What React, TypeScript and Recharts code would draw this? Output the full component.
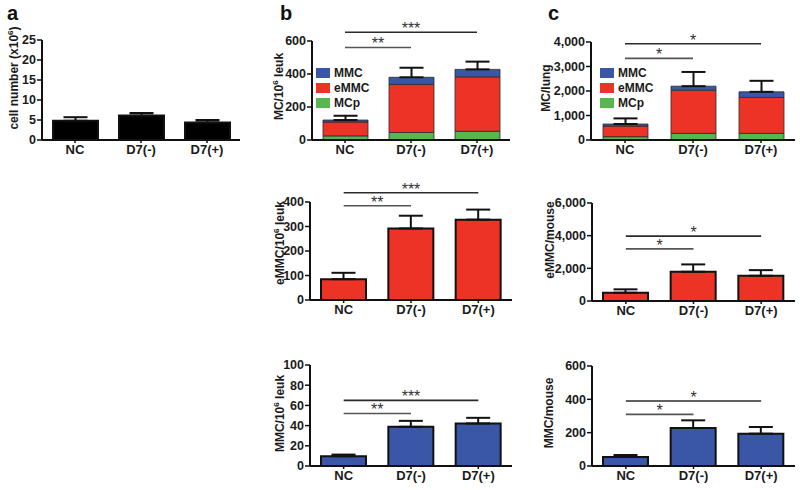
import React from 'react';
import { BarChart, Bar, XAxis, YAxis, ErrorBar, ReferenceLine, Legend } from 'recharts';

const groups = ['NC', 'D7(-)', 'D7(+)'];

// a: total cell number (x10^6)
const cellCount = [4.8, 6.1, 4.4];
const cellCountSem = [0.9, 0.65, 0.6];

// b: per 10^6 leukocytes
const leukMCp = [25, 46, 53];
const leukEMMCStack = [84, 291, 330];
const leukMMCStack = [12, 43, 45];
const leukTotalSem = [26, 58, 47];
const leukEMMC = [85, 292, 328];
const leukEMMCSem = [26, 52, 41];
const leukMMC = [9.7, 38.8, 42.1];
const leukMMCSem = [1.6, 5.9, 5.6];

// c: per lung / per mouse
const lungMCp = [135, 272, 272];
const lungEMMCStack = [435, 1760, 1466];
const lungMMCStack = [82, 165, 228];
const lungTotalSem = [230, 580, 450];
const mouseEMMC = [506, 1790, 1545];
const mouseEMMCSem = [208, 450, 345];
const mouseMMC = [54, 228, 194];
const mouseMMCSem = [12, 46, 40];

// significance bars: [end group, height, stars]
const sigB1: [string, number, string][] = [['D7(+)', 653, '***'], ['D7(-)', 561, '**']];
const sigB2: [string, number, string][] = [['D7(+)', 438, '***'], ['D7(-)', 385, '**']];
const sigB3: [string, number, string][] = [['D7(+)', 65, '***'], ['D7(-)', 52, '**']];
const sigC1: [string, number, string][] = [['D7(+)', 3930, '*'], ['D7(-)', 3330, '*']];
const sigC2: [string, number, string][] = [['D7(+)', 3970, '*'], ['D7(-)', 3190, '*']];
const sigC3: [string, number, string][] = [['D7(+)', 390, '*'], ['D7(-)', 310, '*']];

const BLUE = '#3a57a7';
const RED = '#ec3326';
const GREEN = '#55b84f';
const FONT = "'Liberation Sans', Arial, sans-serif";

type Series = { key: string; name: string; color: string; values: number[] };

const mcStack = (mcp: number[], emmc: number[], mmc: number[]): Series[] => [
  { key: 'mcp', name: 'MCp', color: GREEN, values: mcp },
  { key: 'emmc', name: 'eMMC', color: RED, values: emmc },
  { key: 'mmc', name: 'MMC', color: BLUE, values: mmc },
];

function buildRows(series: Series[], sem: number[]) {
  return groups.map((g, i) => {
    const row: Record<string, any> = { group: g, err: [0, sem[i]] };
    series.forEach((s) => (row[s.key] = s.values[i]));
    return row;
  });
}

function axisTitle(main: string, sup: string | null, rest: string, x: number, dy: number) {
  return (props: any) => {
    const vb = props.viewBox ?? { x: 0, y: 0, width: 0, height: 0 };
    const cx = x;
    const cy = vb.y + vb.height / 2 + dy;
    return (
      <text
        x={cx}
        y={cy}
        transform={`rotate(-90 ${cx} ${cy})`}
        textAnchor="middle"
        dominantBaseline="central"
        fontSize={12}
        fontWeight={700}
        fill="#1a1a1a"
        fontFamily={FONT}
      >
        {main}
        {sup && (
          <tspan dy={-4} fontSize={8}>
            {sup}
          </tspan>
        )}
        <tspan dy={sup ? 4 : 0}>{rest}</tspan>
      </text>
    );
  };
}

type PanelProps = {
  left: number;
  top: number;
  width: number;
  height: number;
  marginTop: number;
  marginRight: number;
  axisWidth: number;
  series: Series[];
  sem: number[];
  domain: [number, number];
  ticks: number[];
  title: (props: any) => React.ReactElement;
  sigs?: [string, number, string][];
  legendAt?: { left: number; top: number };
};

function Panel(p: PanelProps) {
  const rows = buildRows(p.series, p.sem);
  const stacked = p.series.length > 1;
  return (
    <div style={{ position: 'absolute', left: p.left, top: p.top }}>
      <BarChart
        width={p.width}
        height={p.height}
        data={rows}
        margin={{ top: p.marginTop, right: p.marginRight, left: 0, bottom: 0 }}
        barSize={45}
      >
        <XAxis
          dataKey="group"
          height={30}
          axisLine={{ stroke: '#111', strokeWidth: 2 }}
          tickLine={{ stroke: '#111', strokeWidth: 1.5 }}
          tickSize={3}
          tick={{ fill: '#1a1a1a', fontSize: 13, fontWeight: 700, fontFamily: FONT }}
        />
        <YAxis
          width={p.axisWidth}
          domain={p.domain}
          ticks={p.ticks}
          interval={0}
          tickFormatter={(v: number) => v.toLocaleString('en-US')}
          axisLine={{ stroke: '#111', strokeWidth: 2 }}
          tickLine={{ stroke: '#111', strokeWidth: 1.5 }}
          tickSize={5}
          tickMargin={1}
          tick={{ fill: '#1a1a1a', fontSize: 12.5, fontWeight: 700, fontFamily: FONT }}
          label={p.title}
        />
        {p.series.map((s, i) => (
          <Bar
            key={s.key}
            dataKey={s.key}
            name={s.name}
            stackId={stacked ? 'mc' : undefined}
            fill={s.color}
            stroke={stacked ? '#2a2a2a' : '#111'}
            strokeWidth={stacked ? 0.8 : 2}
            isAnimationActive={false}
          >
            {i === p.series.length - 1 && (
              <ErrorBar dataKey="err" width={12} stroke="#111" strokeWidth={2} direction="y" />
            )}
          </Bar>
        ))}
        {(p.sigs ?? []).map(([to, y, stars], i) => (
          <ReferenceLine
            key={i}
            segment={[
              { x: 'NC', y },
              { x: to, y },
            ]}
            ifOverflow="visible"
            stroke={i === 0 ? '#2b2b2b' : '#555'}
            strokeWidth={1.6}
            label={{ value: stars, position: 'top', offset: -2, fontSize: 16, fill: '#333', fontFamily: FONT }}
          />
        ))}
        {p.legendAt && (
          <Legend
            layout="vertical"
            align="center"
            verticalAlign="middle"
            wrapperStyle={{ left: p.legendAt.left, top: p.legendAt.top, width: 'auto' }}
            content={() => (
              <div style={{ fontFamily: FONT, fontSize: 12, fontWeight: 700, color: '#1a1a1a' }}>
                {[...p.series].reverse().map((s) => (
                  <div key={s.key} style={{ display: 'flex', alignItems: 'center', height: 15 }}>
                    <span style={{ width: 14, height: 10, background: s.color, marginRight: 4, display: 'inline-block' }} />
                    <span>{s.name}</span>
                  </div>
                ))}
              </div>
            )}
          />
        )}
      </BarChart>
    </div>
  );
}

const letter = (text: string, left: number) => (
  <div
    style={{
      position: 'absolute',
      left,
      top: 3,
      fontFamily: FONT,
      fontWeight: 700,
      fontSize: 20,
      lineHeight: 1,
      color: '#111',
    }}
  >
    {text}
  </div>
);

export default function App() {
  return (
    <div style={{ position: 'absolute', left: 0, top: 0, width: 800, height: 490, background: '#fff', overflow: 'hidden' }}>
      {letter('a', 7)}
      {letter('b', 280)}
      {letter('c', 548)}

      <Panel
        left={0}
        top={0}
        width={250}
        height={170}
        marginTop={40}
        marginRight={10}
        axisWidth={42}
        series={[{ key: 'cells', name: 'cells', color: '#000', values: cellCount }]}
        sem={cellCountSem}
        domain={[0, 25]}
        ticks={[0, 5, 10, 15, 20, 25]}
        title={axisTitle('cell number (x10', '6', ')', 14, -12)}
      />

      <Panel
        left={270}
        top={0}
        width={250}
        height={170}
        marginTop={41}
        marginRight={10}
        axisWidth={42}
        series={mcStack(leukMCp, leukEMMCStack, leukMMCStack)}
        sem={leukTotalSem}
        domain={[0, 600]}
        ticks={[0, 200, 400, 600]}
        title={axisTitle('MC/10', '6', ' leuk', 9, -4)}
        sigs={sigB1}
        legendAt={{ left: 46, top: 65 }}
      />

      <Panel
        left={530}
        top={0}
        width={270}
        height={170}
        marginTop={42}
        marginRight={5}
        axisWidth={61}
        series={mcStack(lungMCp, lungEMMCStack, lungMMCStack)}
        sem={lungTotalSem}
        domain={[0, 4000]}
        ticks={[0, 1000, 2000, 3000, 4000]}
        title={axisTitle('MC/lung', null, '', 16, -3)}
        sigs={sigC1}
        legendAt={{ left: 70, top: 65 }}
      />

      <Panel
        left={270}
        top={160}
        width={250}
        height={170}
        marginTop={42}
        marginRight={8}
        axisWidth={40}
        series={[{ key: 'emmc', name: 'eMMC', color: RED, values: leukEMMC }]}
        sem={leukEMMCSem}
        domain={[0, 400]}
        ticks={[0, 100, 200, 300, 400]}
        title={axisTitle('eMMC/10', '6', ' leuk', 10, -8)}
        sigs={sigB2}
      />

      <Panel
        left={530}
        top={160}
        width={270}
        height={171}
        marginTop={43}
        marginRight={5}
        axisWidth={62}
        series={[{ key: 'emmc', name: 'eMMC', color: RED, values: mouseEMMC }]}
        sem={mouseEMMCSem}
        domain={[0, 6000]}
        ticks={[0, 2000, 4000, 6000]}
        title={axisTitle('eMMC/mouse', null, '', 20, -12)}
        sigs={sigC2}
      />

      <Panel
        left={270}
        top={320}
        width={250}
        height={176}
        marginTop={45}
        marginRight={8}
        axisWidth={40}
        series={[{ key: 'mmc', name: 'MMC', color: BLUE, values: leukMMC }]}
        sem={leukMMCSem}
        domain={[0, 100]}
        ticks={[0, 20, 40, 60, 80, 100]}
        title={axisTitle('MMC/10', '6', ' leuk', 10, -2)}
        sigs={sigB3}
      />

      <Panel
        left={530}
        top={320}
        width={270}
        height={176}
        marginTop={46}
        marginRight={5}
        axisWidth={62}
        series={[{ key: 'mmc', name: 'MMC', color: BLUE, values: mouseMMC }]}
        sem={mouseMMCSem}
        domain={[0, 600]}
        ticks={[0, 200, 400, 600]}
        title={axisTitle('MMC/mouse', null, '', 19, -3)}
        sigs={sigC3}
      />
    </div>
  );
}
